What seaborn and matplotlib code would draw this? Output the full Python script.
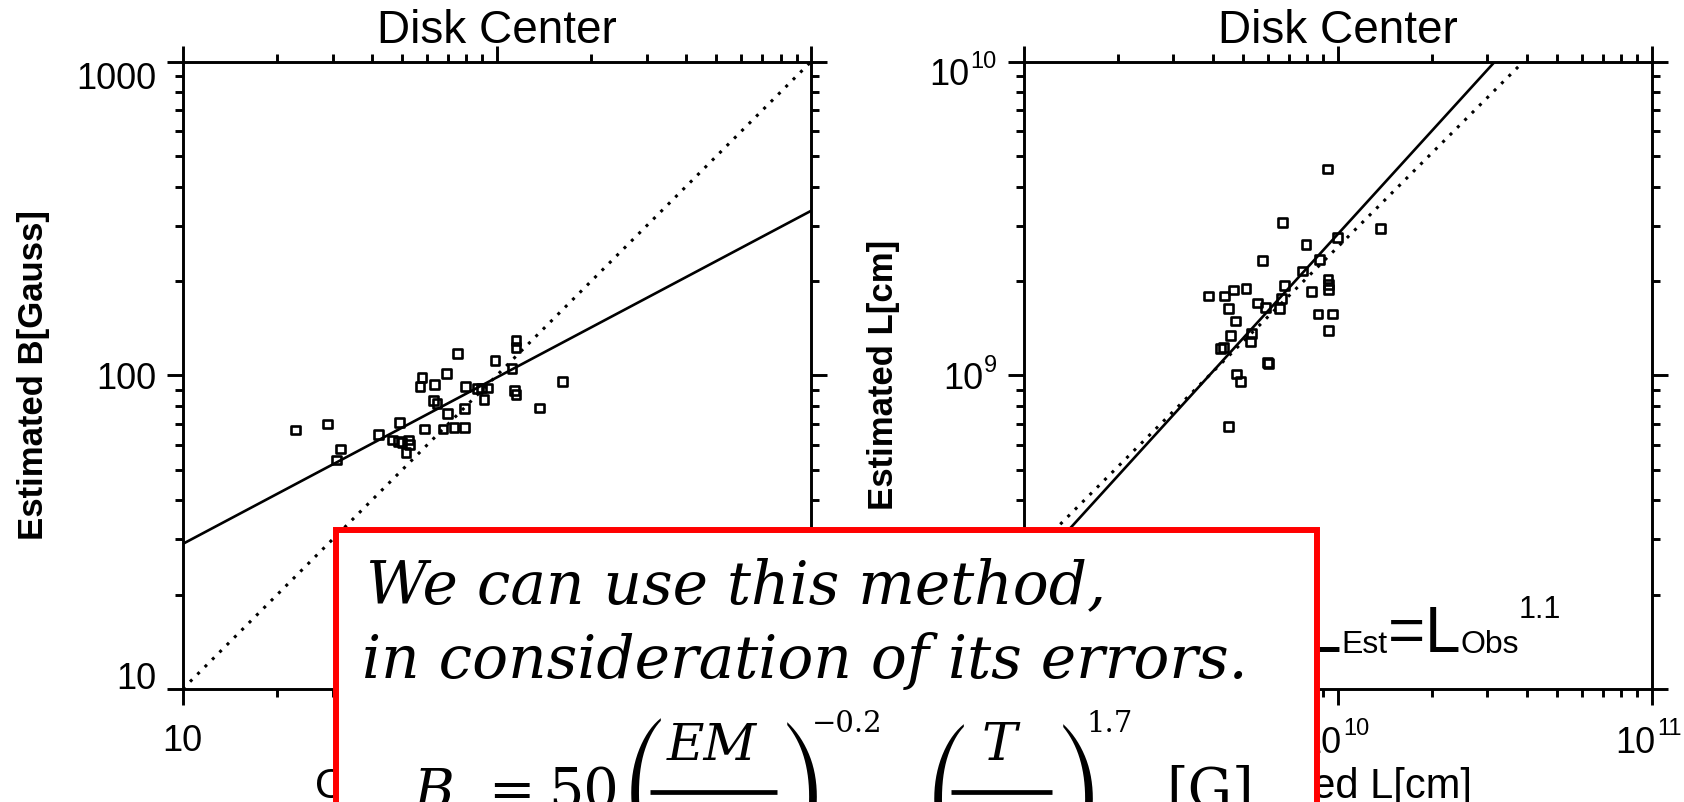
import numpy as np
import matplotlib
matplotlib.use("Agg")
import matplotlib.pyplot as plt
import seaborn as sns
from matplotlib.patches import Rectangle
from matplotlib.lines import Line2D
from matplotlib.ticker import LogLocator, NullFormatter
from matplotlib.transforms import IdentityTransform
from matplotlib.textpath import TextPath
from matplotlib.font_manager import FontProperties

# ---------------- data ----------------
# magnetic field strength [Gauss]: observed vs. estimated
b_observed = [22.8, 28.9, 31.8, 30.8, 42.1, 49.0, 46.6, 49.9, 52.2, 52.7,
              51.4, 48.5, 57.8, 56.9, 63.4, 69.1, 74.9, 62.7, 64.5, 59.0,
              67.4, 69.5, 73.1, 78.7, 78.7, 79.6, 86.7, 89.6, 93.3, 91.0,
              98.6, 111.7, 115.0, 115.0, 113.5, 115.0, 136.5, 162.2]
b_estimated = [66.9, 70.0, 58.2, 53.7, 64.6, 70.8, 62.2, 61.1, 62.2, 60.1,
               56.8, 61.5, 98.2, 92.3, 93.5, 101.2, 117.2, 83.0, 81.5, 67.4,
               67.4, 75.7, 68.3, 68.3, 78.5, 92.1, 90.6, 91.2, 91.2, 83.7,
               111.4, 104.9, 129.1, 123.0, 89.3, 86.9, 78.7, 95.7]

# loop length [1e9 cm]: observed vs. estimated
L_UNIT = 1e9
l_observed = [9.27, 6.70, 9.98, 7.94, 5.77, 8.77, 7.74, 9.33, 9.38, 9.38,
              8.26, 6.79, 6.62, 6.53, 3.88, 4.37, 4.67, 5.11, 4.50, 5.57,
              5.89, 4.74, 8.67, 9.62, 9.38, 4.55, 4.23, 4.34, 5.33, 5.27,
              6.00, 6.03, 4.78, 4.90, 4.50, 13.7]
l_estimated = [4.55, 3.07, 2.75, 2.62, 2.33, 2.34, 2.15, 2.03, 1.95, 1.88,
               1.85, 1.93, 1.76, 1.63, 1.79, 1.79, 1.87, 1.89, 1.63, 1.70,
               1.65, 1.49, 1.57, 1.57, 1.39, 1.34, 1.22, 1.23, 1.36, 1.28,
               1.10, 1.09, 1.01, 0.957, 0.687, 2.94]

# power-law fits  est = c * obs**k
b_fit = (8.54, 0.531)
l_fit = (10 ** -1.551, 1.1)
l_ref_ratio = 0.256          # dotted reference, slope one

panel_title = "Disk Center"
b_ticks = [10, 100, 1000]
b_tick_labels = ["10", "100", "1000"]
l_x_exponents = [9, 10, 11]
l_y_exponents = [8, 9, 10]

# ---------------- style ----------------
W, H, DPI = 1684, 802, 100
PT = DPI / 72.0
sns.set_style("ticks", rc={"axes.edgecolor": "black", "xtick.color": "black",
                           "ytick.color": "black", "text.color": "black",
                           "axes.labelcolor": "black"})
plt.rcParams["font.family"] = ["Liberation Sans", "DejaVu Sans"]
plt.rcParams["mathtext.fontset"] = "dejavuserif"

fig = plt.figure(figsize=(W / DPI, H / DPI), dpi=DPI, facecolor="white")
renderer = fig.canvas.get_renderer()


def px_axes(x0, x1, y_top, y_bot):
    return fig.add_axes([x0 / W, 1 - y_bot / H, (x1 - x0) / W, (y_bot - y_top) / H])


ax_b = px_axes(182.7, 811.0, 61.7, 689.0)
ax_l = px_axes(1023.5, 1651.5, 61.7, 689.0)

LW = 2.1


def style_axes(ax, xlim, ylim):
    ax.set_xscale("log")
    ax.set_yscale("log")
    ax.set_xlim(*xlim)
    ax.set_ylim(*ylim)
    for sp in ax.spines.values():
        sp.set_visible(True)
        sp.set_linewidth(LW)
        sp.set_color("black")
    for axis in (ax.xaxis, ax.yaxis):
        axis.set_minor_locator(LogLocator(base=10, subs=np.arange(2, 10), numticks=40))
        axis.set_minor_formatter(NullFormatter())
    ax.tick_params(which="both", direction="out", top=True, right=True,
                   width=LW, color="black", labelsize=26, labelcolor="black")
    ax.tick_params(which="major", length=11.5)
    ax.tick_params(which="minor", length=5.8)
    ax.tick_params(axis="x", which="major", pad=14)
    ax.tick_params(axis="y", which="major", pad=7.5)
    ax.set_facecolor("white")
    ax.grid(False)


def squares(ax, x, y):
    sns.scatterplot(x=x, y=y, ax=ax, marker="s", s=40, legend=False, zorder=3)
    coll = ax.collections[-1]
    coll.set_facecolor("none")
    coll.set_edgecolor("black")
    coll.set_linewidth(1.9)


def power_line(ax, xs, coef, expo, dotted=False):
    sns.lineplot(x=xs, y=coef * xs ** expo, ax=ax, color="black",
                 linewidth=2.2 if dotted else 1.9, zorder=2, legend=False)
    line = ax.lines[-1]
    if dotted:
        line.set_linestyle((0, (1, 2.4)))


# ---------------- left panel: B ----------------
xs_b = np.logspace(1, 3, 80)
power_line(ax_b, xs_b, b_fit[0], b_fit[1])
power_line(ax_b, xs_b, 1.0, 1.0, dotted=True)
squares(ax_b, b_observed, b_estimated)
style_axes(ax_b, (10, 1000), (10, 1000))
ax_b.set_xticks(b_ticks, b_tick_labels)
ax_b.set_yticks(b_ticks, b_tick_labels)
ax_b.set_xlim(10, 1000)
ax_b.set_ylim(10, 1000)
for tick, va in zip(ax_b.yaxis.get_major_ticks(), ["baseline", "center_baseline", "top"]):
    tick.label1.set_va(va)
ax_b.set_title(panel_title, fontsize=33, y=1.0303, pad=0)
ax_b.set_ylabel("Estimated B[Gauss]", fontsize=25, fontweight="bold")
ax_b.yaxis.set_label_coords(-0.211, 0.5)
ax_b.set_xlabel("Observed B[Gauss]", fontsize=30)
ax_b.xaxis.set_label_coords(0.5, -0.1243)

# ---------------- right panel: L ----------------
xs_l = np.logspace(9, 11, 80)
power_line(ax_l, xs_l, l_fit[0], l_fit[1])
power_line(ax_l, xs_l, l_ref_ratio, 1.0, dotted=True)
squares(ax_l, np.array(l_observed) * L_UNIT, np.array(l_estimated) * L_UNIT)
style_axes(ax_l, (1e9, 1e11), (1e8, 1e10))
ax_l.set_xticks([10.0 ** e for e in l_x_exponents], [""] * len(l_x_exponents))
ax_l.set_yticks([10.0 ** e for e in l_y_exponents], [""] * len(l_y_exponents))
ax_l.set_xlim(1e9, 1e11)
ax_l.set_ylim(1e8, 1e10)
ax_l.set_title(panel_title, fontsize=33, y=1.0303, pad=0)
ax_l.set_ylabel("Estimated L[cm]", fontsize=25, fontweight="bold")
ax_l.yaxis.set_label_coords(-0.1967, 0.5)
ax_l.set_xlabel("Observed L[cm]", fontsize=30, ha="right")
ax_l.xaxis.set_label_coords((1472 - 1023.5) / 628.0, -0.1243)

# power-of-ten tick labels with small raised exponents
y_base_offsets = {8: 0.0, 9: -13.3, 10: -23.3}
for e in l_y_exponents:
    val = 10.0 ** e
    ex = ax_l.annotate(str(e), xy=(0, val), xycoords=("axes fraction", "data"),
                       xytext=(-26.5, y_base_offsets[e] + 17), textcoords="offset pixels",
                       ha="right", va="baseline", fontsize=17, annotation_clip=False)
    ew = ex.get_window_extent(renderer).width
    ax_l.annotate("10", xy=(0, val), xycoords=("axes fraction", "data"),
                  xytext=(-26.5 - ew - 1, y_base_offsets[e]), textcoords="offset pixels",
                  ha="right", va="baseline", fontsize=26, annotation_clip=False)
for e in l_x_exponents:
    val = 10.0 ** e
    ax_l.annotate("10", xy=(val, 0), xycoords=("data", "axes fraction"),
                  xytext=(4, -64.3), textcoords="offset pixels",
                  ha="right", va="baseline", fontsize=26, annotation_clip=False)
    ax_l.annotate(str(e), xy=(val, 0), xycoords=("data", "axes fraction"),
                  xytext=(6, -46), textcoords="offset pixels",
                  ha="left", va="baseline", fontsize=17, annotation_clip=False)

# fit relation label: L_Est = L_Obs^1.1
pieces = [("L", 46, 651.7), ("Est", 23, 653.3), ("=", 46, 651.7),
          ("L", 46, 651.7), ("Obs", 23, 653.3), ("1.1", 22, 618.0)]
x = 1306.0
for s, size, base in pieces:
    t = fig.text(x, H - base, s, transform=IdentityTransform(), fontsize=size,
                 ha="left", va="baseline", zorder=5)
    x = t.get_window_extent(renderer).x1

# ---------------- callout box ----------------
box = Rectangle((336, -30), 1316.5 - 336, (H - 530) + 30, transform=IdentityTransform(),
                facecolor="white", edgecolor="#ff0000", linewidth=4.3, zorder=20,
                clip_on=False)
fig.add_artist(box)

tkw = dict(transform=IdentityTransform(), family="DejaVu Serif", style="italic",
           fontsize=43, ha="left", va="baseline", zorder=21)
fig.text(366, H - 603, "We can use this method,", **tkw)
fig.text(362, H - 678, "in consideration of its errors.", **tkw)


def ftext(x, y_down, s, size, italic=False):
    """Formula glyphs placed by left edge and baseline (pixels from the top)."""
    return fig.text(x, H - y_down, s, transform=IdentityTransform(),
                    family="DejaVu Serif", style="italic" if italic else "normal",
                    fontsize=size, ha="left", va="baseline", zorder=21)


def big_paren(ch, left, top, height_px):
    """Tall thin delimiter from the STIX size-variant font."""
    fp = FontProperties(family=["STIXSizeTwoSym", "DejaVu Sans"])
    ext = TextPath((0, 0), ch, size=10, prop=fp).get_extents()
    size = height_px / (ext.height / 10 * PT)
    y_base = top + ext.y1 / 10 * size * PT
    fig.text(left, H - y_base, ch, transform=IdentityTransform(), fontproperties=fp,
             fontsize=size, ha="left", va="baseline", zorder=21)


def frac_bar(x0, x1, y_down):
    fig.add_artist(Line2D([x0, x1], [H - y_down, H - y_down], transform=IdentityTransform(),
                          color="black", linewidth=3.4, zorder=21, solid_capstyle="butt"))


# B = 50 (EM/..)^-0.2 (T/..)^1.7 [G]
ftext(414, 808, "B", 40, italic=True)
ftext(488, 808, "=", 40)
ftext(548, 808, "50", 40)
big_paren("(", 620, 718, 150)
ftext(667, 760, "EM", 37, italic=True)
frac_bar(650, 777, 792)
big_paren(")", 778, 722, 150)
ftext(812, 732, "\u22120.2", 21)
big_paren("(", 923, 724, 150)
ftext(982, 760, "T", 38, italic=True)
frac_bar(951, 1052, 792)
big_paren(")", 1054, 724, 150)
ftext(1086, 732, "1.7", 21)
ftext(1166, 808, "[G]", 40)

fig.savefig("out.png", dpi=DPI, facecolor="white")
